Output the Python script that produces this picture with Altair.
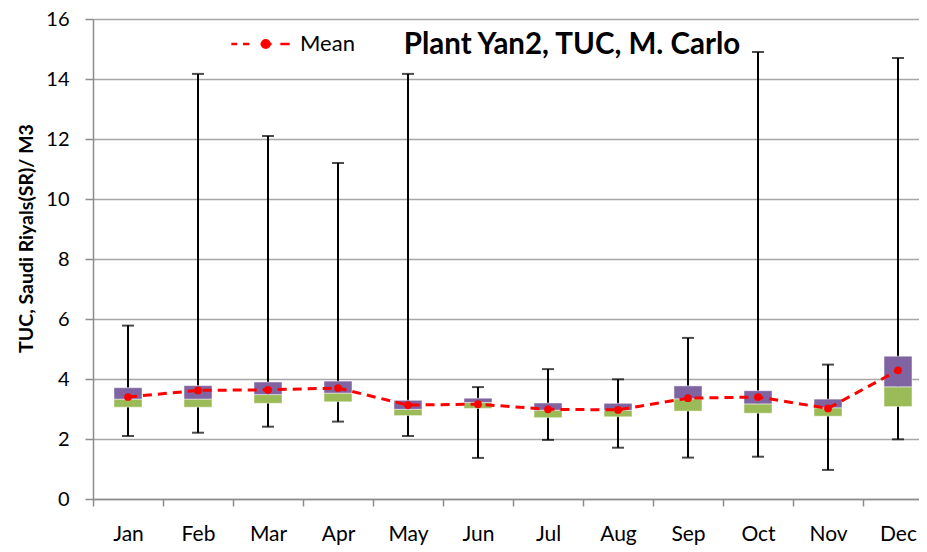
import altair as alt
import pandas as pd

months = ["Jan", "Feb", "Mar", "Apr", "May", "Jun", "Jul", "Aug", "Sep", "Oct", "Nov", "Dec"]
whisk_low = [2.10, 2.21, 2.41, 2.58, 2.10, 1.37, 1.97, 1.71, 1.38, 1.41, 0.97, 1.99]
whisk_high = [5.78, 14.17, 12.10, 11.20, 14.17, 3.73, 4.33, 3.99, 5.37, 14.90, 4.48, 14.70]
box_low = [3.06, 3.06, 3.19, 3.24, 2.78, 3.02, 2.71, 2.74, 2.93, 2.86, 2.76, 3.08]
box_mid = [3.33, 3.33, 3.48, 3.53, 2.99, 3.22, 2.96, 2.96, 3.34, 3.17, 3.04, 3.74]
box_high = [3.71, 3.78, 3.90, 3.93, 3.29, 3.36, 3.20, 3.19, 3.77, 3.61, 3.33, 4.76]
mean_vals = [3.40, 3.62, 3.64, 3.70, 3.13, 3.16, 2.99, 2.97, 3.36, 3.40, 3.02, 4.29]

df = pd.DataFrame({
    "month": months,
    "wlo": whisk_low,
    "whi": whisk_high,
    "blo": box_low,
    "bmid": box_mid,
    "bhi": box_high,
    "mean": mean_vals,
    "series": ["Mean"] * len(months),
})

FONT = "Lato"

x_enc = alt.X(
    "month:N",
    sort=months,
    scale=alt.Scale(range=[0, 840], paddingInner=0, paddingOuter=0),
    axis=alt.Axis(
        title=None, labelAngle=0, tickBand="extent", tickSize=7, labelPadding=17,
        labelFontSize=21, labelFont=FONT, labelColor="#000000",
        domainColor="#8c8c8c", tickColor="#8c8c8c", domainWidth=1.5, tickWidth=1.5,
        grid=False,
    ),
)
y_scale = alt.Scale(domain=[0, 16], nice=False)
y_axis = alt.Axis(
    title="TUC, Saudi Riyals(SR)/ M3",
    values=list(range(0, 17, 2)),
    titleFont=FONT, titleFontSize=19.5, titleFontWeight="bold", titleColor="#000000",
    titleX=-67, titleY=219, titleBaseline="middle", titleAlign="center",
    labelFontSize=20, labelFont=FONT, labelColor="#000000", labelPadding=16,
    tickSize=8, tickColor="#8c8c8c", tickWidth=1.5,
    domainColor="#8c8c8c", domainWidth=1.5,
    grid=True, gridColor="#a6a6a6", gridWidth=1.5,
)

base = alt.Chart(df)

whisk = base.mark_rule(color="#000000", strokeWidth=2).encode(
    x=x_enc,
    y=alt.Y("wlo:Q", scale=y_scale, axis=y_axis),
    y2="whi:Q",
)
cap_lo = base.mark_tick(color="#000000", size=12, thickness=2).encode(
    x=x_enc, y=alt.Y("wlo:Q", scale=y_scale)
)
cap_hi = base.mark_tick(color="#000000", size=12, thickness=2).encode(
    x=x_enc, y=alt.Y("whi:Q", scale=y_scale)
)
box_g = base.mark_bar(size=28, color="#9BBB59", stroke="#ffffff", strokeWidth=0.8, strokeOpacity=0.6).encode(
    x=x_enc, y=alt.Y("blo:Q", scale=y_scale), y2="bmid:Q"
)
box_p = base.mark_bar(size=28, color="#8064A2", stroke="#ffffff", strokeWidth=0.8, strokeOpacity=0.6).encode(
    x=x_enc, y=alt.Y("bmid:Q", scale=y_scale), y2="bhi:Q"
)
mean_line = base.mark_line(color="#FF0000", strokeDash=[9, 6], strokeWidth=3).encode(
    x=x_enc, y=alt.Y("mean:Q", scale=y_scale)
)
legend_path = (
    "M-1,0H-0.8M-0.6,0H-0.38M0,0H0.38M0.68,0H1"
    "M0.05,0A0.13,0.13,0,1,1,0.31,0A0.13,0.13,0,1,1,0.05,0Z"
)
mean_pts = base.mark_point(filled=True, size=60, opacity=1).encode(
    x=x_enc,
    y=alt.Y("mean:Q", scale=y_scale),
    color=alt.Color(
        "series:N",
        scale=alt.Scale(range=["#FF0000"]),
        legend=alt.Legend(
            title=None, orient="none", legendX=137, legendY=-5.5,
            symbolType=legend_path, symbolSize=3400, symbolStrokeWidth=2.5,
            symbolStrokeColor="#FF0000", symbolFillColor="#FF0000",
            labelFont=FONT, labelFontSize=22, labelColor="#000000",
            labelOffset=9, padding=0,
        ),
    ),
)

chart = alt.layer(whisk, cap_lo, cap_hi, box_g, box_p, mean_line, mean_pts).properties(
    width=826,
    height=480,
    autosize=alt.AutoSizeParams(type="none"),
    padding={"left": 85, "top": 11, "right": 0, "bottom": 46},
    title=alt.Title(
        "Plant Yan2, TUC, M. Carlo", anchor="middle", frame="group",
        dx=66, dy=51, offset=0, fontSize=29.5, font=FONT, fontWeight="bold",
        color="#000000",
    ),
).configure_view(strokeWidth=0)

chart.save("out.html", embed_options={"renderer": "svg", "actions": False})
